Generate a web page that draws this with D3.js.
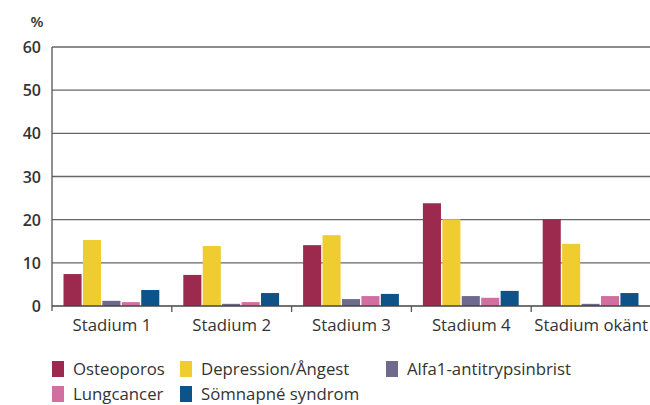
<!DOCTYPE html>
<html>
<head>
<meta charset="UTF-8"/>
<script src="https://cdn.jsdelivr.net/npm/d3@7"></script>
<style>
  body { margin: 0; background: #fff; font-family: 'Open Sans', sans-serif; }
  svg { display: block; }
  text { fill: #333; }
  .ytick text { font-size: 16px; font-weight: 600; }
  .xaxis text { font-size: 16.8px; }
  .legend text { font-size: 16.8px; }
</style>
</head>
<body>
<svg width="650" height="405"></svg>
<script>
const categories = ['Stadium 1', 'Stadium 2', 'Stadium 3', 'Stadium 4', 'Stadium okänt'];
const seriesNames = ['Osteoporos', 'Depression/Ångest', 'Alfa1-antitrypsinbrist', 'Lungcancer', 'Sömnapné syndrom'];
const colors = ['#9b2a4e', '#efcc30', '#6e6a8e', '#d170a0', '#0d5289'];
const osteoporos = [7.4, 7.2, 14.1, 23.8, 20.1];
const depression = [15.3, 13.9, 16.4, 20.1, 14.4];
const alfa1 = [1.2, 0.5, 1.6, 2.3, 0.5];
const lungcancer = [0.9, 0.9, 2.3, 1.9, 2.3];
const somnapne = [3.7, 3.0, 2.8, 3.5, 3.0];
const yTicks = [0, 10, 20, 30, 40, 50, 60];

const values = [osteoporos, depression, alfa1, lungcancer, somnapne];

const svg = d3.select('svg');
const plotLeft = 52, plotRight = 651, plotTop = 47, plotBottom = 306;

const x = d3.scaleBand().domain(categories).range([plotLeft, plotRight]).paddingInner(0).paddingOuter(0);
const xInner = d3.scaleBand().domain(seriesNames).range([11.5, x.bandwidth() - 12.5]).paddingInner(0.07);
const y = d3.scaleLinear().domain([0, 60]).range([plotBottom, plotTop]);

// grid lines
svg.append('g')
  .selectAll('line')
  .data(yTicks.filter(d => d > 0))
  .enter().append('line')
  .attr('x1', plotLeft).attr('x2', plotRight)
  .attr('y1', d => y(d)).attr('y2', d => y(d))
  .attr('stroke', '#666').attr('stroke-width', 1.3);

// y labels
svg.append('g').attr('class', 'ytick')
  .selectAll('text')
  .data(yTicks)
  .enter().append('text')
  .attr('x', 41).attr('y', d => y(d) + 6)
  .attr('text-anchor', 'end')
  .text(d => d);

svg.append('text')
  .attr('x', 37).attr('y', 27)
  .attr('text-anchor', 'middle')
  .attr('font-size', 15).attr('font-weight', 600)
  .text('%');

// bars
const groups = svg.append('g')
  .selectAll('g')
  .data(categories)
  .enter().append('g')
  .attr('transform', d => `translate(${x(d)},0)`);

groups.selectAll('rect')
  .data((c, i) => seriesNames.map((s, j) => ({ s, j, v: values[j][i] })))
  .enter().append('rect')
  .attr('x', d => xInner(d.s))
  .attr('width', xInner.bandwidth())
  .attr('y', d => y(d.v))
  .attr('height', d => plotBottom - y(d.v))
  .attr('fill', d => colors[d.j]);

// y axis line
svg.append('line')
  .attr('x1', plotLeft).attr('x2', plotLeft)
  .attr('y1', plotTop).attr('y2', plotBottom + 5)
  .attr('stroke', '#555').attr('stroke-width', 1.3);

// x axis
const xAxis = svg.append('g').attr('class', 'xaxis');
xAxis.append('line')
  .attr('x1', plotLeft).attr('x2', plotRight)
  .attr('y1', plotBottom).attr('y2', plotBottom)
  .attr('stroke', '#444').attr('stroke-width', 1.5);
xAxis.selectAll('line.tick')
  .data(categories.slice(1))
  .enter().append('line')
  .attr('class', 'tick')
  .attr('x1', d => x(d)).attr('x2', d => x(d))
  .attr('y1', plotBottom).attr('y2', plotBottom + 6)
  .attr('stroke', '#555').attr('stroke-width', 1.3);
xAxis.selectAll('text')
  .data(categories)
  .enter().append('text')
  .attr('x', d => x(d) + x.bandwidth() / 2)
  .attr('y', 331)
  .attr('text-anchor', 'middle')
  .text(d => d);

// legend
const legendPos = [[52, 369], [180, 369], [386, 369], [52, 394], [180, 394]];
const legend = svg.append('g').attr('class', 'legend')
  .selectAll('g')
  .data(seriesNames)
  .enter().append('g')
  .attr('transform', (d, i) => `translate(${legendPos[i][0]},${legendPos[i][1]})`);
legend.append('rect')
  .attr('x', 0).attr('y', -8).attr('width', 12).attr('height', 16)
  .attr('fill', (d, i) => colors[i]);
legend.append('text')
  .attr('x', 21).attr('y', 5.5)
  .text(d => d);
</script>
</body>
</html>
